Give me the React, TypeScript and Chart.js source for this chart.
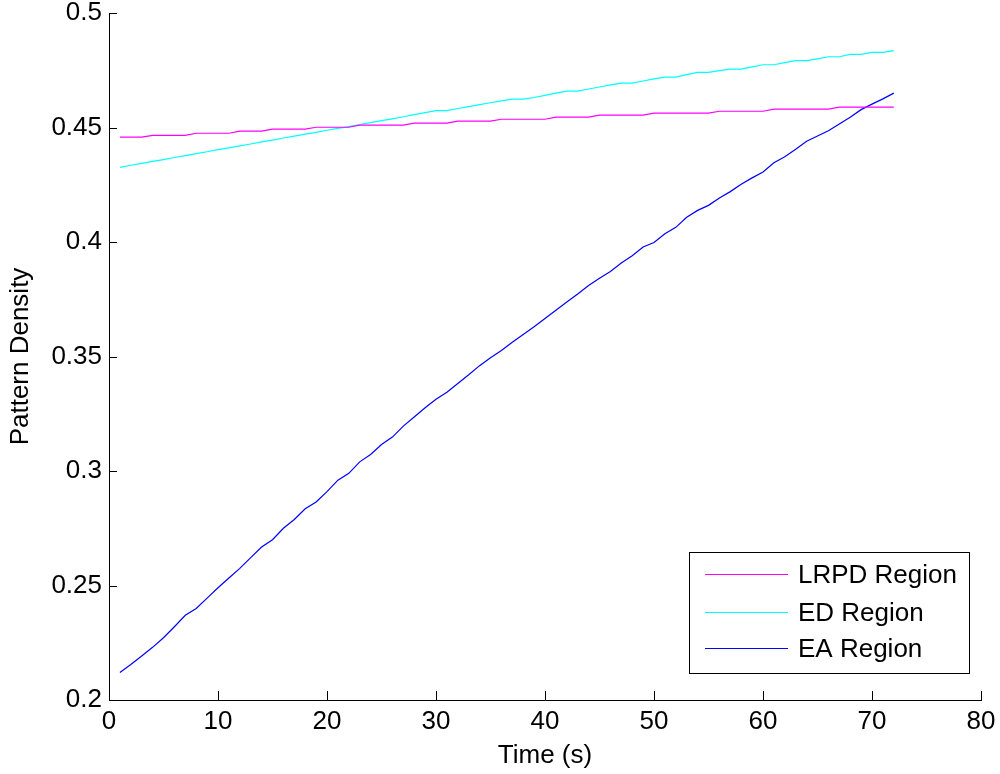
import React, { useEffect, useRef } from "react";
import { Chart, registerables } from "chart.js";

Chart.register(...registerables);

const timeSeconds = [
  1, 2, 3, 4, 5, 6, 7, 8, 9, 10, 11, 12, 13, 14, 15, 16, 17, 18, 19, 20, 21, 22, 23, 24,
  25, 26, 27, 28, 29, 30, 31, 32, 33, 34, 35, 36, 37, 38, 39, 40, 41, 42, 43, 44, 45, 46, 47, 48,
  49, 50, 51, 52, 53, 54, 55, 56, 57, 58, 59, 60, 61, 62, 63, 64, 65, 66, 67, 68, 69, 70, 71, 72,
];

const lrpdRegion = [
  0.4458, 0.4458, 0.4458, 0.4466, 0.4466, 0.4466, 0.4466, 0.4475, 0.4475, 0.4475, 0.4475, 0.4484,
  0.4484, 0.4484, 0.4493, 0.4493, 0.4493, 0.4493, 0.4501, 0.4501, 0.4501, 0.4501, 0.4510, 0.4510,
  0.4510, 0.4510, 0.4510, 0.4519, 0.4519, 0.4519, 0.4519, 0.4528, 0.4528, 0.4528, 0.4528, 0.4536,
  0.4536, 0.4536, 0.4536, 0.4536, 0.4545, 0.4545, 0.4545, 0.4545, 0.4554, 0.4554, 0.4554, 0.4554,
  0.4554, 0.4563, 0.4563, 0.4563, 0.4563, 0.4563, 0.4563, 0.4571, 0.4571, 0.4571, 0.4571, 0.4571,
  0.4580, 0.4580, 0.4580, 0.4580, 0.4580, 0.4580, 0.4589, 0.4589, 0.4589, 0.4589, 0.4589, 0.4589,
];

const edRegion = [
  0.4326, 0.4335, 0.4343, 0.4352, 0.4360, 0.4369, 0.4377, 0.4386, 0.4394, 0.4403, 0.4411, 0.4420,
  0.4428, 0.4437, 0.4445, 0.4454, 0.4462, 0.4471, 0.4479, 0.4488, 0.4496, 0.4504, 0.4513, 0.4521,
  0.4530, 0.4538, 0.4547, 0.4556, 0.4565, 0.4574, 0.4574, 0.4583, 0.4591, 0.4600, 0.4608, 0.4616,
  0.4624, 0.4624, 0.4631, 0.4640, 0.4650, 0.4659, 0.4659, 0.4668, 0.4677, 0.4686, 0.4694, 0.4694,
  0.4703, 0.4712, 0.4720, 0.4720, 0.4731, 0.4741, 0.4741, 0.4748, 0.4755, 0.4755, 0.4765, 0.4774,
  0.4774, 0.4783, 0.4792, 0.4792, 0.4800, 0.4809, 0.4809, 0.4819, 0.4819, 0.4828, 0.4828, 0.4836,
];

const eaRegion = [
  0.2120, 0.2155, 0.2192, 0.2230, 0.2272, 0.2320, 0.2370, 0.2400, 0.2445, 0.2490, 0.2533, 0.2575,
  0.2622, 0.2668, 0.2700, 0.2750, 0.2788, 0.2835, 0.2865, 0.2910, 0.2960, 0.2990, 0.3040, 0.3072,
  0.3116, 0.3148, 0.3196, 0.3236, 0.3276, 0.3313, 0.3344, 0.3382, 0.3420, 0.3460, 0.3495, 0.3526,
  0.3562, 0.3596, 0.3630, 0.3666, 0.3702, 0.3738, 0.3773, 0.3810, 0.3842, 0.3871, 0.3908, 0.3940,
  0.3978, 0.3998, 0.4036, 0.4064, 0.4108, 0.4138, 0.4160, 0.4192, 0.4220, 0.4252, 0.4280, 0.4306,
  0.4346, 0.4372, 0.4405, 0.4440, 0.4463, 0.4486, 0.4515, 0.4545, 0.4578, 0.4602, 0.4625, 0.4650,
];

const seriesLabels = ["LRPD Region", "ED Region", "EA Region"];
const seriesColors = ["#ff00ff", "#00ffff", "#0000ff"];

const xTitle = "Time (s)";
const yTitle = "Pattern Density";
const xMin = 0;
const xMax = 80;
const xStep = 10;
const yMin = 0.2;
const yMax = 0.5;
const yStep = 0.05;

const FONT = '"Liberation Sans", Arial, Helvetica, sans-serif';
const FONT_SIZE = 26;

const inwardTicks = {
  id: "inwardTicks",
  afterDraw(chart: any) {
    const { ctx, chartArea } = chart;
    const xs = chart.scales.x;
    const ys = chart.scales.y;
    ctx.save();
    ctx.strokeStyle = "#000";
    ctx.lineWidth = 1;
    ctx.beginPath();
    xs.ticks.forEach((t: any) => {
      const px = Math.round(xs.getPixelForValue(t.value)) + 0.5;
      ctx.moveTo(px, chartArea.bottom);
      ctx.lineTo(px, chartArea.bottom - 9);
    });
    ys.ticks.forEach((t: any) => {
      const py = Math.round(ys.getPixelForValue(t.value)) + 0.5;
      ctx.moveTo(chartArea.left, py);
      ctx.lineTo(chartArea.left + 8, py);
    });
    ctx.stroke();
    ctx.restore();
  },
};

const boxLegend = {
  id: "boxLegend",
  afterDraw(chart: any) {
    const { ctx, chartArea } = chart;
    const right = chartArea.right - 12;
    const bottom = chartArea.bottom - 27;
    const width = 280;
    const height = 121;
    const left = right - width;
    const top = bottom - height;
    ctx.save();
    ctx.fillStyle = "#fff";
    ctx.fillRect(left, top, width, height);
    ctx.strokeStyle = "#000";
    ctx.lineWidth = 1;
    ctx.strokeRect(Math.round(left) + 0.5, Math.round(top) + 0.5, width, height);
    ctx.font = `${FONT_SIZE}px ${FONT}`;
    ctx.textBaseline = "middle";
    ctx.textAlign = "left";
    const rows = [22, 60, 96];
    chart.data.datasets.forEach((ds: any, i: number) => {
      const y = Math.round(top + rows[i]) + 0.5;
      ctx.strokeStyle = ds.borderColor;
      ctx.beginPath();
      ctx.moveTo(left + 16, y);
      ctx.lineTo(left + 99, y);
      ctx.stroke();
      ctx.fillStyle = "#000";
      ctx.fillText(ds.label, left + 109, y + 1);
    });
    ctx.restore();
  },
};

function fmt(v: number) {
  return String(Number(v.toFixed(2)));
}

function zeroPadding(scale: any) {
  scale.paddingTop = 0;
  scale.paddingBottom = 0;
  scale.paddingLeft = 0;
  scale.paddingRight = 0;
}

export default function App() {
  const canvasRef = useRef<HTMLCanvasElement | null>(null);

  useEffect(() => {
    if (!canvasRef.current) return;
    const seriesValues = [lrpdRegion, edRegion, eaRegion];
    const chart = new Chart(canvasRef.current, {
      type: "line",
      data: {
        datasets: seriesValues.map((vals, i) => ({
          label: seriesLabels[i],
          data: timeSeconds.map((t, j) => ({ x: t, y: vals[j] })),
          borderColor: seriesColors[i],
          backgroundColor: seriesColors[i],
          borderWidth: 1.2,
          pointRadius: 0,
          tension: 0,
          fill: false,
        })),
      },
      options: {
        animation: false,
        responsive: false,
        maintainAspectRatio: false,
        layout: { padding: { left: 0, right: 19, top: 13, bottom: 0 } },
        plugins: {
          legend: { display: false },
          tooltip: { enabled: false },
        },
        scales: {
          x: {
            type: "linear",
            min: xMin,
            max: xMax,
            afterFit(scale: any) {
              scale.height = 74;
              zeroPadding(scale);
            },
            ticks: {
              stepSize: xStep,
              color: "#000",
              padding: 9,
              font: { family: FONT, size: FONT_SIZE, lineHeight: 1 },
              maxRotation: 0,
              callback: (v: any) => fmt(Number(v)),
            },
            grid: { display: true, drawOnChartArea: false, drawTicks: false },
            border: { display: true, color: "#000", width: 1 },
            title: {
              display: true,
              text: xTitle,
              color: "#000",
              font: { family: FONT, size: FONT_SIZE, lineHeight: 1 },
              padding: { top: 0, bottom: 5 },
            },
          },
          y: {
            type: "linear",
            min: yMin,
            max: yMax,
            afterFit(scale: any) {
              scale.width = 109;
              zeroPadding(scale);
            },
            ticks: {
              stepSize: yStep,
              color: "#000",
              padding: 7,
              font: { family: FONT, size: FONT_SIZE, lineHeight: 1 },
              callback: (v: any) => fmt(Number(v)),
            },
            grid: { display: true, drawOnChartArea: false, drawTicks: false },
            border: { display: true, color: "#000", width: 1 },
            title: {
              display: true,
              text: yTitle,
              color: "#000",
              font: { family: FONT, size: FONT_SIZE, lineHeight: 1 },
              padding: { top: 8, bottom: 0 },
            },
          },
        },
      },
      plugins: [inwardTicks, boxLegend],
    });
    return () => chart.destroy();
  }, []);

  return (
    <div style={{ position: "absolute", left: 0, top: 0, width: 1000, height: 774, background: "#fff" }}>
      <canvas ref={canvasRef} width={1000} height={774} style={{ display: "block", width: 1000, height: 774 }} />
    </div>
  );
}
